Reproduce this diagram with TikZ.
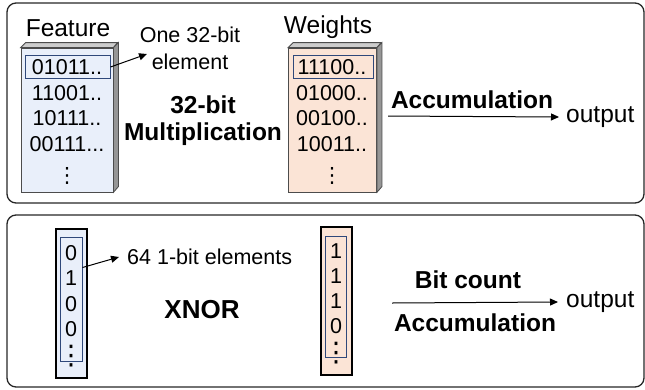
\documentclass[tikz,border=0pt]{standalone}
\usepackage{fontspec}
\setmainfont{Liberation Sans}
\newfontfamily\symfont{DejaVu Sans}
\usetikzlibrary{arrows.meta}

\definecolor{featfill}{RGB}{233,239,250}
\definecolor{wfill}{RGB}{251,228,214}
\definecolor{rowblue}{RGB}{47,72,122}
\definecolor{sidegray}{RGB}{150,150,150}
\definecolor{topgray}{RGB}{205,205,205}

\tikzset{
  panel/.style={draw=black!85, line width=1.3pt, rounded corners=9pt},
  txt/.style={inner sep=0pt, font=\fontsize{21.5}{27}\selectfont},
  ltxt/.style={inner sep=0pt, font=\fontsize{24.5}{28}\selectfont},
  btxt/.style={inner sep=0pt, align=center, font=\fontsize{24.5}{27}\selectfont\bfseries},
  dtxt/.style={inner sep=0pt, font=\symfont\fontsize{#1}{#1}\selectfont},
  rowbox/.style={draw=rowblue, line width=1pt, inner sep=0pt},
  face/.style={draw=black!70, line width=0.8pt, inner sep=0pt},
  bar/.style={draw=black, line width=1.3pt, inner sep=0pt},
  flow/.style={-{Triangle[length=8pt,width=7pt]}, line width=1pt},
}

\begin{document}
\begin{tikzpicture}[x=1pt, y=-1pt]
    \useasboundingbox (0,0) rectangle (645,389);

    % Panels
    \draw[panel] (7,3) rectangle (644,203);
    \draw[panel] (7,215) rectangle (644,387);

    % Feature column (32-bit)
    \node[ltxt] (featlbl) at (68,28) {Feature};
    \node[face, fill=featfill, minimum width=92pt, minimum height=144pt] (feat) at (67,120) {};
    \filldraw[face, fill=topgray] (feat.north west) -- ++(5,-5) -- ++(92,0) -- (feat.north east) -- cycle;
    \filldraw[face, fill=sidegray] (feat.north east) -- ++(5,-5) -- ++(0,144) -- (feat.south east) -- cycle;
    \node[txt] (f1) at (67,67) {01011..};
    \node[txt] (f2) at (67,93) {11001..};
    \node[txt] (f3) at (67,118) {10111..};
    \node[txt] (f4) at (67,144) {00111...};
    \node[dtxt=21] (f5) at (67,176) {⋮};
    \node[rowbox, minimum width=85pt, minimum height=23pt] (fsel) at (67.5,67) {};

    % Weights column (32-bit)
    \node[ltxt] (wlbl) at (328,27) {Weights};
    \node[face, fill=wfill, minimum width=88pt, minimum height=144pt] (wt) at (332.5,120) {};
    \filldraw[face, fill=topgray] (wt.north west) -- ++(5,-5) -- ++(88,0) -- (wt.north east) -- cycle;
    \filldraw[face, fill=sidegray] (wt.north east) -- ++(5,-5) -- ++(0,144) -- (wt.south east) -- cycle;
    \node[txt] (w1) at (332,67) {11100..};
    \node[txt] (w2) at (332,93) {01000..};
    \node[txt] (w3) at (332,118) {00100..};
    \node[txt] (w4) at (332,144) {10011..};
    \node[dtxt=21] (w5) at (332,176) {⋮};
    \node[rowbox, minimum width=80pt, minimum height=23pt] (wsel) at (333,67) {};

    % labels, top
    \node[txt, align=center] (onelbl) at (190,48.5) {One 32-bit\\element};
    \coordinate (onetip) at (147,54);
    \draw[flow] (fsel.east) -- (onetip);
    \node[btxt] (mult) at (203,121) {32-bit\\Multiplication};
    \node[btxt] (acc1) at (472,100) {Accumulation};
    \coordinate (a1) at (388,116);
    \node[ltxt, anchor=west] (out1) at (566,117) {output};
    \draw[flow] (a1) -- ([xshift=-7pt]out1.west);

    % Binary columns (1-bit)
    \node[bar, fill=featfill, minimum width=31pt, minimum height=149pt] (bfeat) at (71.5,303.5) {};
    \foreach \v [count=\i] in {0,1,0,0}
        \node[txt] (bf\i) at (71,227.5+25.5*\i) {\v};
    \node[dtxt=27] (bf5) at (71,356) {⋮};
    \node[rowbox, minimum width=22pt, minimum height=124pt] (bfsel) at (71,299) {};

    \node[bar, fill=wfill, minimum width=31pt, minimum height=148pt] (bwt) at (336.5,301) {};
    \foreach \v [count=\i] in {1,1,1,0}
        \node[txt] (bw\i) at (336,226.5+25*\i) {\v};
    \node[dtxt=27] (bw5) at (336,353) {⋮};
    \node[rowbox, minimum width=21pt, minimum height=121pt] (bwsel) at (335.5,296.5) {};

    % labels, bottom
    \node[txt, anchor=west] (elem64) at (127,257) {64 1-bit elements};
    \draw[flow] ([yshift=-31pt]bfsel.north east) -- ([xshift=-8pt]elem64.west);
    \node[btxt, font=\fontsize{26}{28}\selectfont\bfseries] (xnor) at (202,310) {XNOR};
    \node[btxt] (bitcnt) at (468,280) {Bit count};
    \node[btxt] (acc2) at (475,323) {Accumulation};
    \coordinate (a2) at (392,303);
    \node[ltxt, anchor=west] (out2) at (566,302) {output};
    \draw[flow] (a2) -- ([xshift=-8pt]out2.west);

\end{tikzpicture}
\end{document}
